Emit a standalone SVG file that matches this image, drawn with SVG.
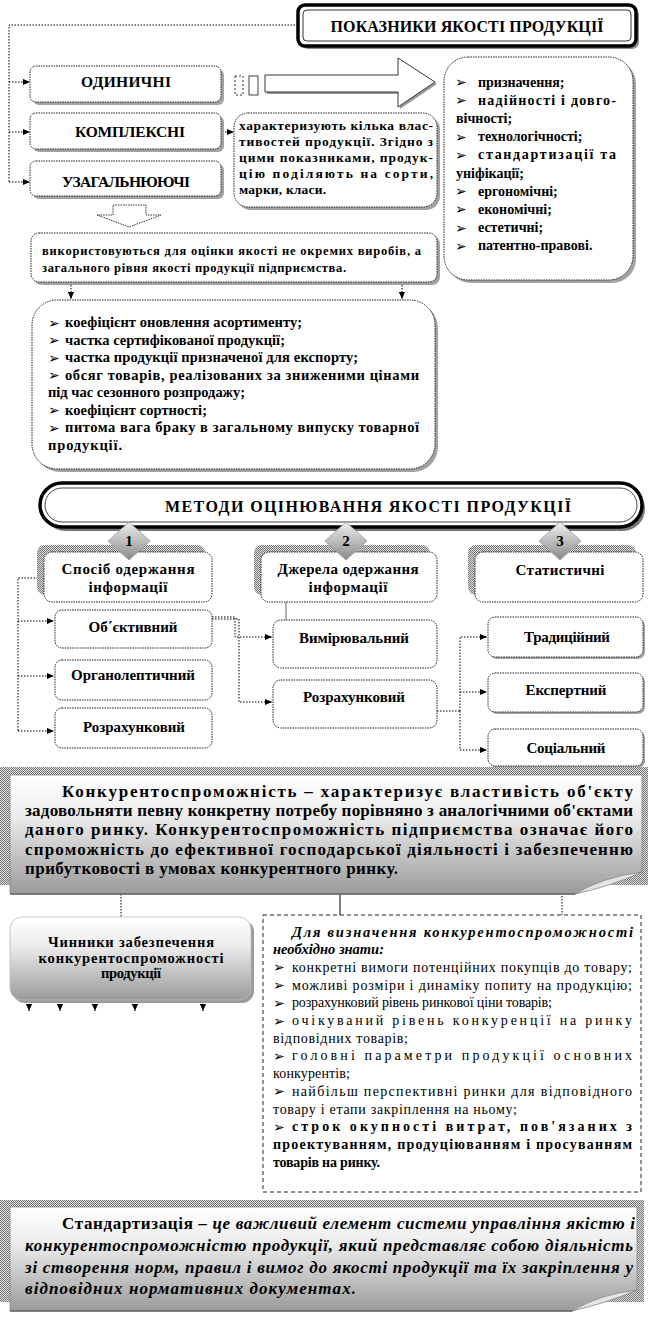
<svg xmlns="http://www.w3.org/2000/svg" width="649" height="1317" viewBox="0 0 649 1317" font-family="'Liberation Serif', 'DejaVu Serif', serif">
<defs>
<style>
.f{font-family:'Liberation Serif','DejaVu Serif',serif;fill:#000}
.b{font-weight:bold}
.i{font-style:italic}
.c{text-anchor:middle}
.bul{font-family:'DejaVu Sans',sans-serif;font-size:14px;fill:#000}
.box{fill:#fff;stroke:#222;stroke-width:1;stroke-dasharray:1.5 1}
.sh{fill:#a3a3a3}
.con{fill:none;stroke:#000;stroke-width:1;stroke-dasharray:1.5 1.5}
.arr{marker-end:url(#ah)}
.hat{fill:url(#hatch)}
.dia{fill:url(#gdia);stroke:#999;stroke-width:0.8}
</style>
<marker id="ah" viewBox="0 0 8 8" refX="8" refY="4" markerWidth="7" markerHeight="7" markerUnits="userSpaceOnUse" orient="auto">
<path d="M0,0.5 L8,4 L0,7.5 Z" fill="#000"/>
</marker>
<pattern id="hatch" width="2" height="2" patternUnits="userSpaceOnUse">
<rect width="2" height="2" fill="#dcdcdc"/>
<rect width="1" height="1" fill="#7a7a7a"/>
<rect x="1" y="1" width="1" height="1" fill="#7a7a7a"/>
</pattern>
<linearGradient id="gfade" x1="0" y1="0" x2="0" y2="1">
<stop offset="0" stop-color="#ffffff"/>
<stop offset="0.35" stop-color="#ececec"/>
<stop offset="1" stop-color="#9a9a9a"/>
</linearGradient>
<linearGradient id="gdia" x1="0" y1="0" x2="0" y2="1">
<stop offset="0" stop-color="#efefef"/>
<stop offset="1" stop-color="#8a8a8a"/>
</linearGradient>
</defs>
<rect width="649" height="1317" fill="#fff"/>

<g id="connectors">
<path class="con" d="M298,25 H9 V182"/>
<path class="con arr" d="M9,82 H30"/>
<path class="con arr" d="M9,132 H30"/>
<path class="con arr" d="M9,182 H30"/>
<path class="con arr" d="M222,132 H234"/>
<rect x="235" y="76" width="8" height="19" fill="#fff" stroke="#333" stroke-width="1" stroke-dasharray="2 2"/>
<rect x="249" y="76" width="9" height="19" fill="#fff" stroke="#444" stroke-width="1"/>
<polygon points="265,75 398,75 398,58 435,82 398,107 398,92 265,92" fill="#999" transform="translate(2,2)"/>
<polygon points="265,75 398,75 398,58 435,82 398,107 398,92 265,92" fill="#fff" stroke="#333" stroke-width="1"/>
<polygon points="113,205 146,205 146,215 161,215 129,227 97,215 113,215" fill="#fff" stroke="#333" stroke-width="1" stroke-dasharray="1.5 1"/>
<path class="con arr" d="M71,285 V299"/>
<path class="con arr" d="M402,285 V299"/>
<path class="con" d="M44,578 H18 V731"/>
<path class="con arr" d="M18,621 H54"/>
<path class="con arr" d="M18,676 H54"/>
<path class="con arr" d="M18,731 H54"/>
<path class="con arr" d="M212,617 H235 V637 H272"/>
<path class="con arr" d="M212,619 H239 V702 H272"/>
<path d="M286,602 V620" stroke="#666" stroke-width="1" fill="none"/>
<path class="con" d="M437,711 H460"/>
<path class="con arr" d="M460,711 V637 H487"/>
<path class="con arr" d="M460,692 H487"/>
<path class="con arr" d="M460,711 V750 H487"/>
<path class="con" d="M121,894 V917"/>
<path d="M340,894 V915" stroke="#000" stroke-width="1" fill="none"/>
<path class="con" d="M562,890 V915"/>
<path class="con arr" d="M29,1001 V1011"/>
<path class="con arr" d="M60,1001 V1011"/>
<path class="con arr" d="M95,1001 V1011"/>
<path class="con arr" d="M135,1001 V1011"/>
<path class="con arr" d="M203,1001 V1011"/>
</g>

<g id="title">
<rect x="301" y="8" width="338" height="41" rx="7" fill="#8a8a8a"/>
<rect x="298" y="5" width="338" height="41" rx="7" fill="#fff" stroke="#000" stroke-width="3.5"/>
<rect x="303" y="10" width="328" height="31" rx="4" fill="none" stroke="#333" stroke-width="1"/>
<text class="f b c" x="467" y="32" font-size="16" textLength="273">ПОКАЗНИКИ ЯКОСТІ ПРОДУКЦІЇ</text>
</g>

<g id="odynychni">
<rect class="sh" x="33" y="69" width="191" height="36" rx="6"/>
<rect class="box" x="30" y="66" width="191" height="36" rx="6"/>
<text class="f b c" x="126" y="87" font-size="15.5" textLength="90">ОДИНИЧНІ</text>
</g>

<g id="kompleksni">
<rect class="sh" x="33" y="116" width="191" height="36" rx="6"/>
<rect class="box" x="30" y="113" width="191" height="36" rx="6"/>
<text class="f b c" x="130" y="137" font-size="15.5" textLength="110">КОМПЛЕКСНІ</text>
</g>

<g id="uzahalniuiuchi">
<rect class="sh" x="33" y="164" width="191" height="35" rx="6"/>
<rect class="box" x="30" y="161" width="191" height="35" rx="6"/>
<text class="f b c" x="126" y="187" font-size="15.5" textLength="128">УЗАГАЛЬНЮЮЧІ</text>
</g>

<g id="vlastyvosti">
<rect class="sh" x="447" y="60" width="189" height="223" rx="24"/>
<rect class="box" x="444" y="57" width="189" height="223" rx="24"/>
<text class="bul" x="455" y="87">➢</text><text class="f b" x="478" y="86.5" font-size="14">призначення;</text>
<text class="bul" x="455" y="105.2">➢</text><text class="f b" x="478" y="104.7" font-size="14" textLength="138">надійності і довго-</text>
<text class="f b" x="456" y="122.9" font-size="14">вічності;</text>
<text class="bul" x="455" y="141.6">➢</text><text class="f b" x="478" y="141.1" font-size="14">технологічності;</text>
<text class="bul" x="455" y="159.8">➢</text><text class="f b" x="478" y="159.3" font-size="14" textLength="138">стандартизації та</text>
<text class="f b" x="456" y="177.5" font-size="14">уніфікації;</text>
<text class="bul" x="455" y="196.2">➢</text><text class="f b" x="478" y="195.7" font-size="14">ергономічні;</text>
<text class="bul" x="455" y="214.4">➢</text><text class="f b" x="478" y="213.9" font-size="14">економічні;</text>
<text class="bul" x="455" y="232.6">➢</text><text class="f b" x="478" y="232.1" font-size="14">естетичні;</text>
<text class="bul" x="455" y="250.8">➢</text><text class="f b" x="478" y="250.3" font-size="14">патентно-правові.</text>
</g>

<g id="kharakteryzuiut">
<rect class="sh" x="237" y="116" width="203" height="94" rx="14"/>
<rect class="box" x="234" y="113" width="203" height="94" rx="14"/>
<text class="f b" x="239" y="130" font-size="13.5" textLength="194">характеризують кілька влас-</text>
<text class="f b" x="239" y="146" font-size="13.5" textLength="194">тивостей продукції. Згідно з</text>
<text class="f b" x="239" y="162" font-size="13.5" textLength="194">цими показниками, продук-</text>
<text class="f b" x="239" y="178" font-size="13.5" textLength="194">цію поділяють на сорти,</text>
<text class="f b" x="239" y="194" font-size="13.5" textLength="87">марки, класи.</text>
</g>

<g id="vykorystovuiutsia">
<rect class="sh" x="34" y="236" width="406" height="49" rx="8"/>
<rect class="box" x="31" y="233" width="406" height="49" rx="8"/>
<text class="f b" x="42" y="254.5" font-size="12.5" textLength="379">використовуються для оцінки якості не окремих виробів, а</text>
<text class="f b" x="42" y="271.5" font-size="12.5" textLength="304">загального рівня якості продукції підприємства.</text>
</g>

<g id="koefitsiienty">
<rect class="sh" x="35" y="303" width="403" height="169" rx="25"/>
<rect class="box" x="32" y="300" width="403" height="169" rx="25"/>
<text class="bul" x="48" y="327.5">➢</text><text class="f b" x="65" y="327" font-size="14.5" textLength="237">коефіцієнт оновлення асортименту;</text>
<text class="bul" x="48" y="345">➢</text><text class="f b" x="65" y="344.5" font-size="14.5" textLength="220">частка сертифікованої продукції;</text>
<text class="bul" x="48" y="362.5">➢</text><text class="f b" x="65" y="362" font-size="14.5" textLength="293">частка продукції призначеної для експорту;</text>
<text class="bul" x="48" y="380">➢</text><text class="f b" x="65" y="379.5" font-size="14.5" textLength="354">обсяг товарів, реалізованих за зниженими цінами</text>
<text class="f b" x="48" y="397" font-size="14.5" textLength="197">під час сезонного розпродажу;</text>
<text class="bul" x="48" y="415">➢</text><text class="f b" x="65" y="414.5" font-size="14.5" textLength="142">коефіцієнт сортності;</text>
<text class="bul" x="48" y="432.5">➢</text><text class="f b" x="65" y="432" font-size="14.5" textLength="354">питома вага браку в загальному випуску товарної</text>
<text class="f b" x="48" y="449.5" font-size="14.5" textLength="74">продукції.</text>
</g>

<g id="metody">
<rect x="43" y="487" width="602" height="44" rx="22" fill="#777"/>
<rect x="40" y="483" width="602" height="44" rx="22" fill="#fff" stroke="#000" stroke-width="3.5"/>
<rect x="45" y="488" width="592" height="34" rx="17" fill="none" stroke="#444" stroke-width="1"/>
<text class="f b c" x="368" y="512" font-size="16" textLength="406">МЕТОДИ ОЦІНЮВАННЯ ЯКОСТІ ПРОДУКЦІЇ</text>
</g>

<g id="sposib">
<rect class="hat" x="37" y="545" width="168" height="50" rx="8"/>
<rect class="box" x="44" y="552" width="168" height="50" rx="8"/>
<polygon class="dia" points="129,522 150,541 129,560 108,541"/>
<text class="f b c" x="129" y="546" font-size="15">1</text>
<text class="f b c" x="128" y="574" font-size="15" textLength="133">Спосіб одержання</text>
<text class="f b c" x="128" y="592" font-size="15" textLength="79">інформації</text>
</g>

<g id="dzherela">
<rect class="hat" x="254" y="545" width="176" height="50" rx="8"/>
<rect class="box" x="261" y="552" width="176" height="50" rx="8"/>
<polygon class="dia" points="346,522 367,541 346,560 325,541"/>
<text class="f b c" x="346" y="546" font-size="15">2</text>
<text class="f b c" x="348" y="574" font-size="15" textLength="141">Джерела одержання</text>
<text class="f b c" x="348" y="592" font-size="15" textLength="79">інформації</text>
</g>

<g id="statystychni">
<rect class="hat" x="468" y="545" width="168" height="50" rx="8"/>
<rect class="box" x="475" y="552" width="168" height="50" rx="8"/>
<polygon class="dia" points="560,522 581,541 560,560 539,541"/>
<text class="f b c" x="560" y="546" font-size="15">3</text>
<text class="f b c" x="560" y="575" font-size="15" textLength="89">Статистичні</text>
</g>

<g id="obiektyvnyi">
<rect class="box" x="55" y="610" width="157" height="38" rx="7"/>
<text class="f b c" x="133" y="632" font-size="15" textLength="89">Об΄єктивний</text>
</g>
<g id="orhanoleptychnyi">
<rect class="box" x="55" y="660" width="157" height="40" rx="7"/>
<text class="f b c" x="133" y="680" font-size="15" textLength="124">Органолептичний</text>
</g>
<g id="rozrakhunkovyi1">
<rect class="box" x="55" y="708" width="157" height="40" rx="7"/>
<text class="f b c" x="134" y="732" font-size="15" textLength="102">Розрахунковий</text>
</g>
<g id="vymiriuvalnyi">
<rect class="box" x="273" y="620" width="164" height="48" rx="8"/>
<text class="f b c" x="354" y="643" font-size="15" textLength="110">Вимірювальний</text>
</g>
<g id="rozrakhunkovyi2">
<rect class="box" x="273" y="680" width="164" height="48" rx="8"/>
<text class="f b c" x="354" y="702" font-size="15" textLength="102">Розрахунковий</text>
</g>
<g id="tradytsiinyi">
<rect class="sh" x="490" y="619" width="155" height="40" rx="7"/>
<rect class="box" x="488" y="617" width="155" height="40" rx="7"/>
<text class="f b c" x="567" y="642" font-size="15" textLength="86">Традиційний</text>
</g>
<g id="ekspertnyi">
<rect class="sh" x="490" y="675" width="155" height="39" rx="7"/>
<rect class="box" x="488" y="673" width="155" height="39" rx="7"/>
<text class="f b c" x="566" y="695" font-size="15" textLength="81">Експертний</text>
</g>
<g id="sotsialnyi">
<rect class="sh" x="490" y="731" width="155" height="37" rx="7"/>
<rect class="box" x="488" y="729" width="155" height="37" rx="7"/>
<text class="f b c" x="566" y="753" font-size="15" textLength="79">Соціальний</text>
</g>

<g id="konkurentospromozhnist">
<rect class="hat" x="0" y="767" width="648" height="118"/>
<path d="M10,775 H642 V872 L575,894 H10 Z" fill="url(#gfade)" stroke="#888" stroke-width="0.8"/>
<path d="M10,894 H575" stroke="#666" stroke-width="1.5"/>
<path d="M575,894 Q603,877 642,872 Q612,886 575,894 Z" fill="#e4e4e4" stroke="#888" stroke-width="0.8"/>
<text class="f b" x="62" y="797" font-size="17" textLength="571">Конкурентоспроможність – характеризує властивість об'єкту</text>
<text class="f b" x="25" y="816.2" font-size="17" textLength="608">задовольняти певну конкретну потребу порівняно з аналогічними об'єктами</text>
<text class="f b" x="25" y="835.4" font-size="17" textLength="608">даного ринку. Конкурентоспроможність підприємства означає його</text>
<text class="f b" x="25" y="854.6" font-size="17" textLength="608">спроможність до ефективної господарської діяльності і забезпеченню</text>
<text class="f b" x="25" y="873.8" font-size="17" textLength="373">прибутковості в умовах конкурентного ринку.</text>
</g>

<g id="chynnyky">
<rect x="13" y="920" width="241" height="83" rx="12" fill="#9a9a9a"/>
<rect x="10" y="917" width="241" height="83" rx="12" fill="url(#gfade)" stroke="#bbb" stroke-width="0.8"/>
<text class="f b c" x="131" y="947" font-size="14.5" textLength="166">Чинники забезпечення</text>
<text class="f b c" x="131" y="962.5" font-size="14.5" textLength="185">конкурентоспроможності</text>
<text class="f b c" x="131" y="978" font-size="14.5" textLength="60">продукції</text>
</g>

<g id="dlia-vyznachennia">
<rect x="263" y="915" width="378" height="277" fill="#fff" stroke="#222" stroke-width="1" stroke-dasharray="4 3"/>
<text class="f b i" x="292" y="936.5" font-size="14.5" textLength="341">Для визначення конкурентоспроможності</text>
<text class="f b i" x="273" y="954.2" font-size="14.5">необхідно знати:</text>
<text class="bul" x="273" y="972.4">➢</text><text class="f" x="292" y="971.9" font-size="14" textLength="340">конкретні вимоги потенційних покупців до товару;</text>
<text class="bul" x="273" y="990.1">➢</text><text class="f" x="292" y="989.6" font-size="14" textLength="340">можливі розміри і динаміку попиту на продукцію;</text>
<text class="bul" x="273" y="1007.8">➢</text><text class="f" x="292" y="1007.3" font-size="14" textLength="260">розрахунковий рівень ринкової ціни товарів;</text>
<text class="bul" x="273" y="1025.5">➢</text><text class="f" x="292" y="1025" font-size="14" textLength="340">очікуваний рівень конкуренції на ринку</text>
<text class="f" x="273" y="1042.7" font-size="14" textLength="135">відповідних товарів;</text>
<text class="bul" x="273" y="1060.9">➢</text><text class="f" x="292" y="1060.4" font-size="14" textLength="340">головні параметри продукції основних</text>
<text class="f" x="273" y="1078.1" font-size="14" textLength="77">конкурентів;</text>
<text class="bul" x="273" y="1096.3">➢</text><text class="f" x="292" y="1095.8" font-size="14" textLength="340">найбільш перспективні ринки для відповідного</text>
<text class="f" x="273" y="1113.5" font-size="14" textLength="244">товару і етапи закріплення на ньому;</text>
<text class="bul" x="273" y="1131.7">➢</text><text class="f b" x="292" y="1131.2" font-size="14" textLength="340">строк окупності витрат, пов'язаних з</text>
<text class="f b" x="273" y="1148.9" font-size="14" textLength="359">проектуванням, продуціюванням і просуванням</text>
<text class="f b" x="273" y="1166.6" font-size="14" textLength="107">товарів на ринку.</text>
</g>

<g id="standartyzatsiia">
<rect class="hat" x="0" y="1200" width="644" height="102"/>
<path d="M10,1207 H637 V1290 L572,1311 H10 Z" fill="url(#gfade)" stroke="#888" stroke-width="0.8"/>
<path d="M10,1311 H572" stroke="#666" stroke-width="1.5"/>
<path d="M572,1311 Q600,1294 637,1290 Q607,1303 572,1311 Z" fill="#e4e4e4" stroke="#888" stroke-width="0.8"/>
<text class="f b" x="62" y="1229" font-size="17" textLength="573"><tspan>Стандартизація</tspan><tspan class="i"> – це важливий елемент системи управління якістю і</tspan></text>
<text class="f b i" x="25" y="1251" font-size="17" textLength="608">конкурентоспроможністю продукції, який представляє собою діяльність</text>
<text class="f b i" x="25" y="1273" font-size="17" textLength="608">зі створення норм, правил і вимог до якості продукції та їх закріплення у</text>
<text class="f b i" x="25" y="1294" font-size="17" textLength="331">відповідних нормативних документах.</text>
</g>
</svg>
